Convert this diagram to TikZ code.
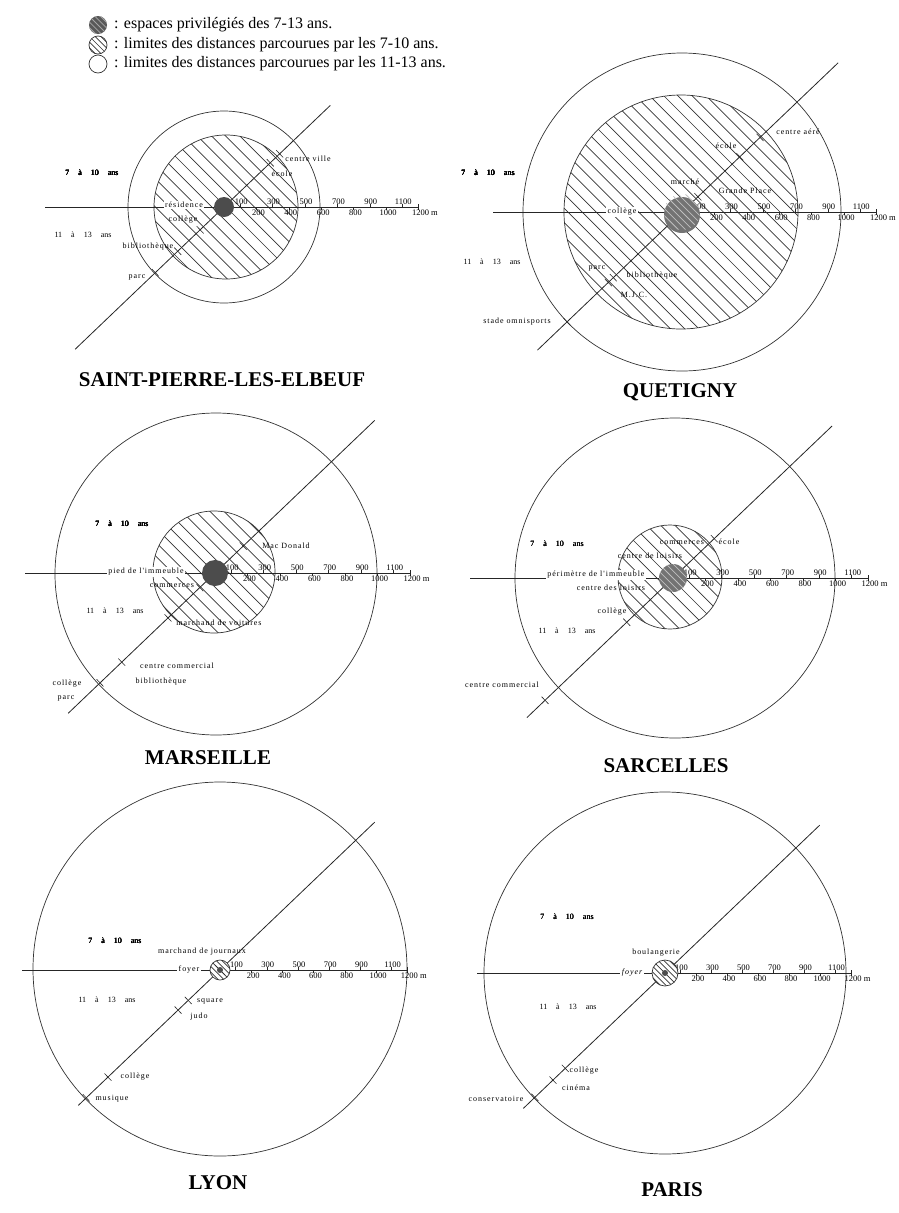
\documentclass[tikz,border=0pt]{standalone}
\usepackage{fontspec}
\setmainfont{Liberation Serif}
\newfontfamily\spacedfont[LetterSpace=12]{Liberation Serif}
\usetikzlibrary{calc}

% hatching clipped to a disk: centre, radius, gap
\newcommand{\hatchdisk}[3]{%
  \begin{scope}
    \clip (#1) circle[radius=#2];
    \foreach \i in {-18,...,18}
      \draw[hatch] ($(#1)+({\i*#3*0.7071-300},{-\i*#3*0.7071-300})$) -- ++(600,600);
  \end{scope}}
% distance scale: centre x, centre y, px per 100 m, left end
\newcommand{\scalebar}[4]{%
  \draw[axisline] (#4,#2) -- ({#1+12*#3},#2);
  \foreach \k in {1,3,...,11}{
    \draw[tickline] ({#1+\k*#3},#2) -- ++(0,-3);
    \node[scalenum, anchor=south] at ({#1+\k*#3+1},{#2-2}) {\the\numexpr\k*100\relax};}
  \foreach \k in {2,4,...,10}{
    \draw[tickline] ({#1+\k*#3},#2) -- ++(0,3);
    \node[scalenum, anchor=north] at ({#1+\k*#3+2},{#2+2}) {\the\numexpr\k*100\relax};}
  \draw[tickline] ({#1+12*#3},{#2-3}) -- ++(0,6);
  \node[scalenum, anchor=north west] at ({#1+12*#3-7},{#2+2}) {1200 m};}
\newcommand{\diagline}[3]{\draw[axisline] ($(#1)+(-43.7:#2)$) -- ($(#1)+(136.3:#3)$);}
\newcommand{\placetick}[2]{\draw[tickline] ($(#1)+(136.3:#2)+(46.3:5)$) -- ($(#1)+(136.3:#2)+(46.3:-5)$);}
\newcommand{\agetext}[2]{#1\hspace{9pt}à\hspace{9pt}#2\hspace{9pt}ans}

\begin{document}
\begin{tikzpicture}[x=1pt, y=-1pt,
  ring/.style={draw=black!80, line width=0.7pt},
  hatch/.style={draw=black!80, line width=0.7pt},
  axisline/.style={draw=black!85, line width=0.8pt},
  tickline/.style={draw=black!85, line width=0.6pt},
  scalenum/.style={font=\fontsize{8.5}{9}\selectfont, inner sep=0.5pt},
  place/.style={font=\spacedfont\fontsize{8}{9}\selectfont, inner sep=0.5pt},
  onaxis/.style={place, fill=white, inner sep=1.5pt},
  agelabel/.style={font=\fontsize{8}{9}\selectfont, inner sep=0pt},
  town/.style={font=\fontsize{21}{24}\selectfont\bfseries},
  legendtext/.style={font=\fontsize{16}{18}\selectfont, anchor=west, inner sep=0pt}]
  \useasboundingbox (0,0) rectangle (898,1213);

  % legend
  \coordinate (l1) at (98,25);
  \coordinate (l2) at (98,45);
  \coordinate (l3) at (98,64);
  \fill[black!65] (l1) circle[radius=9];
  \begin{scope}[hatch/.style={draw=black!35, line width=0.8pt}]
    \hatchdisk{l1}{9}{4}
  \end{scope}
  \hatchdisk{l2}{9}{4}
  \draw[ring] (l2) circle[radius=9];
  \draw[ring] (l3) circle[radius=9];
  \node[legendtext] (leg1) at (114,25) {: espaces privilégiés des 7-13 ans.};
  \node[legendtext] (leg2) at (114,45) {: limites des distances parcourues par les 7-10 ans.};
  \node[legendtext] (leg3) at (114,64) {: limites des distances parcourues par les 11-13 ans.};

  % SAINT-PIERRE-LES-ELBEUF
  \coordinate (c1) at (224,207);
  \coordinate (h1) at (226,207);
  \hatchdisk{h1}{72}{10}
  \draw[ring] (h1) circle[radius=72];
  \draw[ring] (c1) circle[radius=96];
  \scalebar{224}{207}{16.2}{45}
  \diagline{c1}{147}{206}
  \fill[black!70] (c1) circle[radius=10];
  \foreach \d in {33,64,95,-64,-77} \placetick{c1}{\d}
  \node[agelabel] (sp-710) at (92,173) {\agetext{7}{10}};
  \node[agelabel] (sp-1113) at (83,235) {\agetext{11}{13}};
  \node[place] (sp-ville) at (308,159) {centre ville};
  \node[place] (sp-ecole) at (282,174) {école};
  \node[onaxis] (sp-resid) at (184,205) {résidence};
  \node[place] (sp-coll) at (183,220) {collège};
  \node[place] (sp-bib) at (148,247) {bibliothèque};
  \node[place] (sp-parc) at (137,277) {parc};
  \node[town] (t1) at (222,380) {SAINT-PIERRE-LES-ELBEUF};

  % QUETIGNY
  \coordinate (c2) at (682,212);
  \coordinate (h2) at (681,212);
  \hatchdisk{h2}{117}{10}
  \draw[ring] (h2) circle[radius=117];
  \draw[ring] (c2) circle[radius=159];
  \scalebar{682}{212}{16.2}{493}
  \diagline{c2}{216}{200}
  \fill[black!55] (682,215) circle[radius=18];
  \begin{scope}[hatch/.style={draw=black!25, line width=0.8pt}]
    \hatchdisk{c2}{18}{5}
  \end{scope}
  \foreach \d in {-22,-80,-108,95,102,159} \placetick{c2}{\d}
  \node[agelabel] (qu-710) at (488,173) {\agetext{7}{10}};
  \node[agelabel] (qu-1113) at (492,262) {\agetext{11}{13}};
  \node[place] (qu-aere) at (798,132) {centre aéré};
  \node[place] (qu-ecole) at (726,146) {école};
  \node[place] (qu-marche) at (685,182) {marché};
  \node[place] (qu-place) at (745,191) {Grande Place};
  \node[onaxis] (qu-coll) at (622,212) {collège};
  \node[place] (qu-parc) at (597,268) {parc};
  \node[place] (qu-bib) at (652,276) {bibliothèque};
  \node[place] (qu-mjc) at (634,295) {M.J.C.};
  \node[place] (qu-stade) at (517,322) {stade omnisports};
  \node[town] (t2) at (680,392) {QUETIGNY};

  % MARSEILLE
  \coordinate (c3) at (215,573);
  \coordinate (h3) at (214,572);
  \hatchdisk{h3}{61}{10}
  \draw[ring] (h3) circle[radius=61];
  \draw[ring] (216,574) circle[radius=161];
  \scalebar{215}{573}{16.25}{25}
  \diagline{c3}{221}{203}
  \fill[black!70] (c3) circle[radius=13];
  \foreach \d in {-39,21,65,129,159} \placetick{c3}{\d}
  \node[agelabel] (ma-710) at (122,524) {\agetext{7}{10}};
  \node[agelabel] (ma-1113) at (115,611) {\agetext{11}{13}};
  \node[onaxis] (ma-pied) at (146,572) {pied de l'immeuble};
  \node[place] (ma-comm) at (172,586) {commerces};
  \node[place] (ma-mac) at (286,546) {Mac Donald};
  \node[place] (ma-voit) at (219,623) {marchand de voitures};
  \node[place] (ma-cc) at (177,666) {centre commercial};
  \node[place] (ma-bib) at (161,682) {bibliothèque};
  \node[place] (ma-coll) at (67,684) {collège};
  \node[place] (ma-parc) at (66,698) {parc};
  \node[town] (t3) at (208,758) {MARSEILLE};

  % SARCELLES
  \coordinate (c4) at (673,578);
  \coordinate (h4) at (670,577);
  \hatchdisk{h4}{52}{10}
  \draw[ring] (h4) circle[radius=52];
  \draw[ring] (675,578) circle[radius=160];
  \scalebar{673}{578}{16.25}{470}
  \diagline{c4}{220}{202}
  \fill[black!55] (c4) circle[radius=14];
  \begin{scope}[hatch/.style={draw=black!25, line width=0.8pt}]
    \hatchdisk{c4}{14}{5}
  \end{scope}
  \foreach \d in {-57,64,177} \placetick{c4}{\d}
  \node[agelabel] (sa-710) at (557,544) {\agetext{7}{10}};
  \node[agelabel] (sa-1113) at (567,631) {\agetext{11}{13}};
  \node[onaxis] (sa-perim) at (596,575) {périmètre de l'immeuble};
  \node[place] (sa-comm) at (682,543) {commerces};
  \node[place] (sa-ecole) at (729,542) {école};
  \node[place] (sa-loisir) at (650,556) {centre de loisirs};
  \node[place] (sa-loisir2) at (611,588) {centre des loisirs};
  \node[place] (sa-coll) at (612,612) {collège};
  \node[place] (sa-cc) at (502,685) {centre commercial};
  \node[town] (t4) at (666,766) {SARCELLES};

  % LYON
  \coordinate (c5) at (220,970);
  \draw[ring] (220,969) circle[radius=187];
  \scalebar{220}{970}{15.6}{22}
  \diagline{c5}{214}{196}
  \fill[white] (c5) circle[radius=10];
  \hatchdisk{c5}{10}{4}
  \draw[ring] (c5) circle[radius=10];
  \draw[tickline] ($(c5)+(-5,-5)$) -- ($(c5)+(5,5)$);
  \fill[black!70] (c5) circle[radius=3];
  \foreach \d in {44,58,155,185} \placetick{c5}{\d}
  \node[agelabel] (ly-710) at (115,941) {\agetext{7}{10}};
  \node[agelabel] (ly-1113) at (107,1000) {\agetext{11}{13}};
  \node[place] (ly-journ) at (202,952) {marchand de journaux};
  \node[onaxis] (ly-foyer) at (189,970) {foyer};
  \node[place] (ly-square) at (210,1001) {square};
  \node[place] (ly-judo) at (199,1017) {judo};
  \node[place] (ly-coll) at (135,1077) {collège};
  \node[place] (ly-mus) at (112,1099) {musique};
  \node[town] (t5) at (218,1183) {LYON};

  % PARIS
  \coordinate (c6) at (665,973);
  \draw[ring] (c6) circle[radius=181];
  \scalebar{665}{973}{15.5}{477}
  \diagline{c6}{214}{196}
  \fill[white] (c6) circle[radius=13];
  \hatchdisk{c6}{13}{4}
  \draw[ring] (c6) circle[radius=13];
  \fill[black!70] (c6) circle[radius=3];
  \foreach \d in {138,155,180} \placetick{c6}{\d}
  \node[agelabel] (pa-710) at (567,917) {\agetext{7}{10}};
  \node[agelabel] (pa-1113) at (568,1007) {\agetext{11}{13}};
  \node[place] (pa-boul) at (656,953) {boulangerie};
  \node[onaxis, font=\spacedfont\itshape\fontsize{8}{9}\selectfont] (pa-foyer) at (632,973) {foyer};
  \node[place] (pa-coll) at (584,1071) {collège};
  \node[place] (pa-cine) at (576,1088) {cinéma};
  \node[place] (pa-cons) at (496,1099) {conservatoire};
  \node[town] (t6) at (672,1190) {PARIS};
\end{tikzpicture}
\end{document}
